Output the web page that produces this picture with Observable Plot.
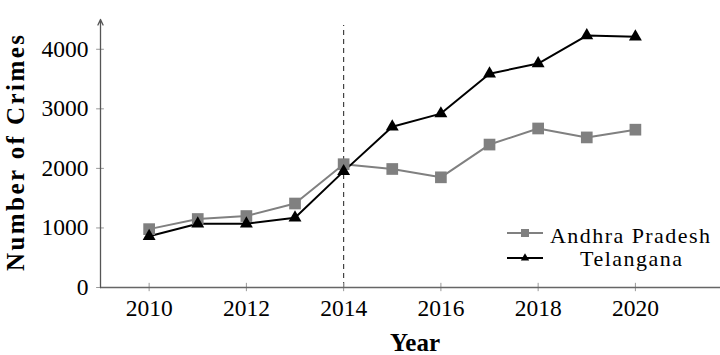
<!DOCTYPE html>
<html><head><meta charset="utf-8">
<script src="https://cdn.jsdelivr.net/npm/d3@7"></script>
<script src="https://cdn.jsdelivr.net/npm/@observablehq/plot@0.6"></script>
<style>
body{margin:0;background:#fff;overflow:hidden}
#wrap{position:relative;width:720px;height:355px}
#wrap svg text{font-family:"Liberation Serif"}
</style></head><body><div id="wrap"></div>
<script>
const years = [2010, 2011, 2012, 2013, 2014, 2015, 2016, 2017, 2018, 2019, 2020];
const andhra = [980, 1150, 1200, 1410, 2070, 1990, 1850, 2400, 2670, 2520, 2650];
const telangana = [860, 1070, 1070, 1170, 1950, 2700, 2920, 3590, 3760, 4230, 4210];
const seriesNames = ["Andhra Pradesh", "Telangana"];
const seriesColors = ["#808080", "#000000"];
const xTicks = [2010, 2012, 2014, 2016, 2018, 2020];
const yTicks = [0, 1000, 2000, 3000, 4000];
const xDomain = [2009, 2021.75];
const yDomain = [0, 4500];
const splitYear = [2014];
const splitTop = 4400;
const xLabel = "Year";
const yLabel = "Number of Crimes";

const rows = years.flatMap((yr, i) => [
  {year: yr, value: andhra[i], state: seriesNames[0]},
  {year: yr, value: telangana[i], state: seriesNames[1]}
]);

const serif = "Liberation Serif";

const chart = Plot.plot({
  width: 720, height: 355,
  marginLeft: 100, marginRight: 0, marginTop: 19, marginBottom: 68,
  style: {fontFamily: serif, fontSize: "23.5px", color: "#000", background: "#fff", overflow: "visible"},
  x: {domain: xDomain},
  y: {domain: yDomain},
  color: {domain: seriesNames, range: seriesColors},
  marks: [
    Plot.ruleX(splitYear, {x: d => d, y1: yDomain[0], y2: splitTop, stroke: "#333", strokeWidth: 1.1, strokeDasharray: "5,4"}),
    Plot.ruleX(xTicks, {x: d => d, y1: -70, y2: 70, stroke: "#999", strokeWidth: 1}),
    Plot.ruleY(yTicks, {y: d => d, x1: xDomain[0] - 0.08, x2: xDomain[0] + 0.08, stroke: "#999", strokeWidth: 1}),
    Plot.ruleY([yDomain[0]], {y: d => d, x1: xDomain[0], x2: xDomain[1], stroke: "#666", strokeWidth: 1.3}),
    Plot.arrow([0], {x1: xDomain[0], y1: yDomain[0], x2: xDomain[0], y2: yDomain[1], stroke: "#555", strokeWidth: 1.3, headLength: 7, headAngle: 50}),
    Plot.axisX(xTicks, {tickSize: 0, tickPadding: 12, label: null, tickFormat: d => String(d)}),
    Plot.axisY(yTicks, {tickSize: 0, tickPadding: 12, label: null, tickFormat: d => String(d)}),
    Plot.line(rows, {x: "year", y: "value", stroke: "state", strokeWidth: 2, z: "state"}),
    Plot.dot(rows.filter(d => d.state === seriesNames[0]), {x: "year", y: "value", symbol: "square", r: 6.6, fill: seriesColors[0], stroke: "none"}),
    Plot.dot(rows.filter(d => d.state === seriesNames[1]), {x: "year", y: "value", symbol: "triangle", r: 4.8, fill: seriesColors[1], stroke: "none"})
  ]
});

document.getElementById("wrap").appendChild(chart);

const svg = d3.select(chart);
svg.append("text")
  .attr("transform", "translate(24,153) rotate(-90)")
  .attr("text-anchor", "middle")
  .style("font-weight", "bold").style("font-size", "25px")
  .attr("textLength", 236).attr("lengthAdjust", "spacing")
  .attr("fill", "#000")
  .text(yLabel);
svg.append("text")
  .attr("x", 415).attr("y", 351)
  .attr("text-anchor", "middle")
  .style("font-weight", "bold").style("font-size", "25px")
  .attr("fill", "#000")
  .text(xLabel);

// legend
const lg = svg.append("g");
const legendRows = [
  {name: seriesNames[0], color: seriesColors[0], sym: d3.symbolSquare, size: 64, ly: 233, tx: 550, ty: 243, anchor: "start", len: 160},
  {name: seriesNames[1], color: seriesColors[1], sym: d3.symbolTriangle, size: 30, ly: 258, tx: 631, ty: 266, anchor: "middle", len: 102}
];
legendRows.forEach(r => {
  lg.append("line").attr("x1", 507).attr("x2", 543).attr("y1", r.ly).attr("y2", r.ly)
    .attr("stroke", r.color).attr("stroke-width", 2);
  lg.append("path").attr("d", d3.symbol(r.sym, r.size)()).attr("transform", `translate(525,${r.ly})`)
    .attr("fill", r.color);
  lg.append("text").attr("x", r.tx).attr("y", r.ty).attr("text-anchor", r.anchor)
    .style("font-size", "22px").attr("fill", "#000")
    .attr("textLength", r.len).attr("lengthAdjust", "spacing")
    .text(r.name);
});
</script></body></html>
